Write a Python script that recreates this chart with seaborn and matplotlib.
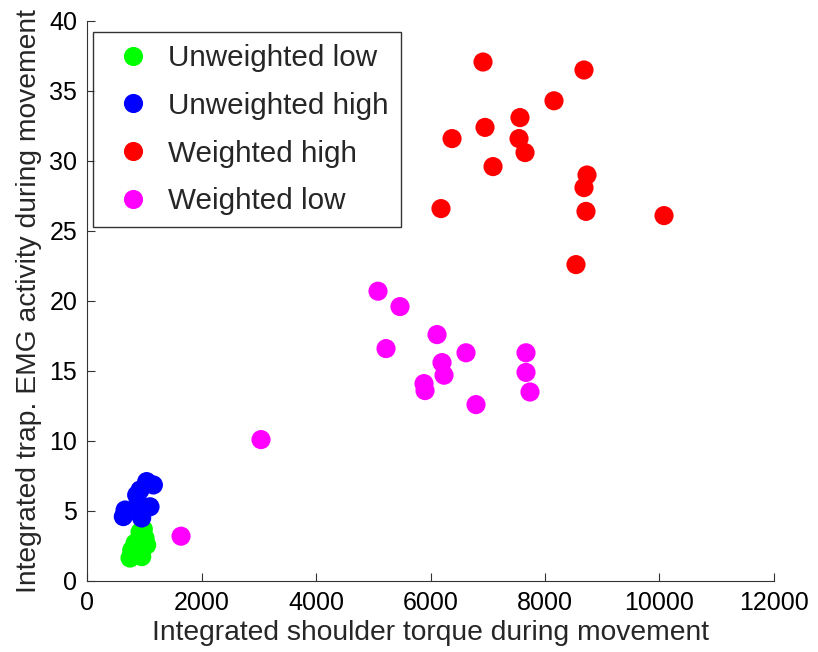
import matplotlib
matplotlib.use("Agg")
import matplotlib.pyplot as plt
import seaborn as sns
import pandas as pd

# Integrated shoulder torque (x) and trapezius EMG (y) per trial, by condition
unweighted_low_x = [926, 983, 1013, 838, 1042, 780, 896, 751, 955]
unweighted_low_y = [3.5, 3.7, 3.07, 2.7, 2.57, 2.2, 2.2, 1.64, 1.74]

unweighted_high_x = [1042, 1159, 926, 867, 1100, 664, 810, 954, 634, 896]
unweighted_high_y = [7.1, 6.86, 6.5, 6.14, 5.3, 5.07, 5.07, 4.5, 4.6, 5.6]

weighted_high_x = [6917, 8681, 8157, 7563, 6952, 7546, 6376, 7651, 7092,
                   8734, 8681, 8716, 6183, 10079, 8541]
weighted_high_y = [37.07, 36.5, 34.3, 33.1, 32.4, 31.6, 31.6, 30.6, 29.6,
                   29.0, 28.1, 26.4, 26.6, 26.1, 22.6]

weighted_low_x = [5083, 5467, 6114, 5223, 6620, 6201, 6236, 7668, 7668,
                  5886, 5904, 7738, 6795, 3039, 1642]
weighted_low_y = [20.7, 19.6, 17.6, 16.6, 16.3, 15.6, 14.7, 16.3, 14.9,
                  14.1, 13.6, 13.5, 12.6, 10.1, 3.2]

conditions = ["Unweighted low", "Unweighted high", "Weighted high", "Weighted low"]
colors = ["#00ff00", "#0000ff", "#ff0000", "#ff00ff"]

xs = [unweighted_low_x, unweighted_high_x, weighted_high_x, weighted_low_x]
ys = [unweighted_low_y, unweighted_high_y, weighted_high_y, weighted_low_y]
df = pd.concat(
    [pd.DataFrame({"torque": x, "emg": y, "condition": c})
     for x, y, c in zip(xs, ys, conditions)],
    ignore_index=True,
)

x_ticks = [0, 2000, 4000, 6000, 8000, 10000, 12000]
y_ticks = [0, 5, 10, 15, 20, 25, 30, 35, 40]

sns.set_style("ticks")
plt.rcParams["font.family"] = ["Liberation Sans", "DejaVu Sans"]

fig = plt.figure(figsize=(8.18, 6.52), dpi=100)
ax = fig.add_axes([0.1064, 0.1089, 0.8398, 0.8589])

sns.scatterplot(
    data=df, x="torque", y="emg", hue="condition",
    hue_order=conditions, palette=dict(zip(conditions, colors)),
    s=190, linewidth=0, alpha=1, ax=ax,
)

ax.set_xlim(0, 12000)
ax.set_ylim(0, 40)
ax.set_xticks(x_ticks)
ax.set_yticks(y_ticks)
ax.tick_params(direction="in", length=6, width=0.8, colors="#333333",
               labelcolor="black", labelsize=18, pad=7)
for side in ("top", "right"):
    ax.spines[side].set_visible(False)
for side in ("left", "bottom"):
    ax.spines[side].set_color("#333333")
    ax.spines[side].set_linewidth(0.8)

ax.set_xlabel("Integrated shoulder torque during movement", fontsize=20.3, labelpad=4)
ax.set_ylabel("Integrated trap. EMG activity during movement", fontsize=20.3, labelpad=5)

leg = ax.legend(
    loc="upper left", bbox_to_anchor=(0.0087, 0.98), borderaxespad=0,
    fontsize=21.3, frameon=True, fancybox=False, edgecolor="black",
    handletextpad=0.25, labelspacing=0.67, borderpad=0.40, handlelength=1.9,
    markerscale=1.0,
)
leg.get_frame().set_linewidth(1.0)

fig.savefig("out.png", dpi=100)
